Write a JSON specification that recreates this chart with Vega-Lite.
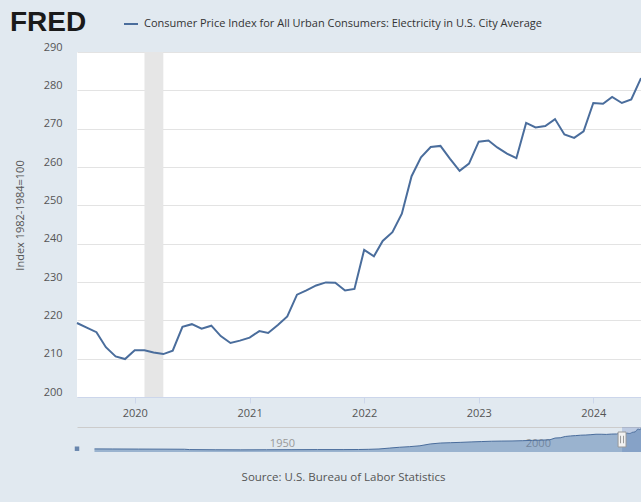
{
  "$schema": "https://vega.github.io/schema/vega-lite/v6.json",
  "background": "#e1e9f0",
  "padding": {"left": 10, "top": 16, "right": 0, "bottom": 19},
  "bounds": "flush",
  "spacing": 30,
  "config": {
    "font": "Open Sans",
    "view": {"stroke": null},
    "axis": {"labelFont": "Open Sans", "titleFont": "Open Sans", "labelFontSize": 11, "titleFontSize": 11, "titleFontWeight": "normal"}
  },
  "title": {"text": "Source: U.S. Bureau of Labor Statistics", "orient": "bottom", "anchor": "middle", "font": "Open Sans", "fontSize": 11.5, "fontWeight": "normal", "color": "#555555", "offset": 20, "dx": 16},
  "datasets": {
    "cpi": [
      {"date": "2019-07-01", "value": 219.3}, {"date": "2019-08-01", "value": 218.1}, {"date": "2019-09-01", "value": 216.9},
      {"date": "2019-10-01", "value": 213.0}, {"date": "2019-11-01", "value": 210.6}, {"date": "2019-12-01", "value": 209.9},
      {"date": "2020-01-01", "value": 212.2}, {"date": "2020-02-01", "value": 212.2}, {"date": "2020-03-01", "value": 211.6},
      {"date": "2020-04-01", "value": 211.2}, {"date": "2020-05-01", "value": 212.1}, {"date": "2020-06-01", "value": 218.3},
      {"date": "2020-07-01", "value": 219.0}, {"date": "2020-08-01", "value": 217.8}, {"date": "2020-09-01", "value": 218.6},
      {"date": "2020-10-01", "value": 215.9}, {"date": "2020-11-01", "value": 214.1}, {"date": "2020-12-01", "value": 214.7},
      {"date": "2021-01-01", "value": 215.5}, {"date": "2021-02-01", "value": 217.2}, {"date": "2021-03-01", "value": 216.7},
      {"date": "2021-04-01", "value": 218.8}, {"date": "2021-05-01", "value": 221.0}, {"date": "2021-06-01", "value": 226.7},
      {"date": "2021-07-01", "value": 227.8}, {"date": "2021-08-01", "value": 229.1}, {"date": "2021-09-01", "value": 229.9},
      {"date": "2021-10-01", "value": 229.8}, {"date": "2021-11-01", "value": 227.8}, {"date": "2021-12-01", "value": 228.2},
      {"date": "2022-01-01", "value": 238.4}, {"date": "2022-02-01", "value": 236.7}, {"date": "2022-03-01", "value": 240.7},
      {"date": "2022-04-01", "value": 243.0}, {"date": "2022-05-01", "value": 247.8}, {"date": "2022-06-01", "value": 257.6},
      {"date": "2022-07-01", "value": 262.5}, {"date": "2022-08-01", "value": 265.2}, {"date": "2022-09-01", "value": 265.5},
      {"date": "2022-10-01", "value": 262.2}, {"date": "2022-11-01", "value": 259.0}, {"date": "2022-12-01", "value": 260.9},
      {"date": "2023-01-01", "value": 266.6}, {"date": "2023-02-01", "value": 266.9}, {"date": "2023-03-01", "value": 265.1},
      {"date": "2023-04-01", "value": 263.5}, {"date": "2023-05-01", "value": 262.3}, {"date": "2023-06-01", "value": 271.5},
      {"date": "2023-07-01", "value": 270.3}, {"date": "2023-08-01", "value": 270.7}, {"date": "2023-09-01", "value": 272.5},
      {"date": "2023-10-01", "value": 268.5}, {"date": "2023-11-01", "value": 267.6}, {"date": "2023-12-01", "value": 269.3},
      {"date": "2024-01-01", "value": 276.7}, {"date": "2024-02-01", "value": 276.5}, {"date": "2024-03-01", "value": 278.3},
      {"date": "2024-04-01", "value": 276.7}, {"date": "2024-05-01", "value": 277.6}, {"date": "2024-06-01", "value": 283.2}
    ],
    "recession": [{"start": "2020-02-01", "end": "2020-04-01"}],
    "range": [{"start": "2019-07-01", "end": "2024-06-01"}],
    "first": [{"date": "1913-01-01", "value": 38}],
    "history": [
      {"date": "1916-06-01", "value": 36}, {"date": "1920-01-01", "value": 35}, {"date": "1925-01-01", "value": 34},
      {"date": "1930-01-01", "value": 33}, {"date": "1934-01-01", "value": 32}, {"date": "1935-01-01", "value": 28},
      {"date": "1940-01-01", "value": 26}, {"date": "1945-01-01", "value": 25}, {"date": "1950-01-01", "value": 26},
      {"date": "1955-01-01", "value": 27}, {"date": "1960-01-01", "value": 28}, {"date": "1965-01-01", "value": 28},
      {"date": "1968-01-01", "value": 29}, {"date": "1970-01-01", "value": 31}, {"date": "1972-01-01", "value": 35},
      {"date": "1974-01-01", "value": 45}, {"date": "1976-01-01", "value": 55}, {"date": "1978-01-01", "value": 62},
      {"date": "1980-01-01", "value": 72}, {"date": "1982-01-01", "value": 93}, {"date": "1984-01-01", "value": 104},
      {"date": "1986-01-01", "value": 108}, {"date": "1988-01-01", "value": 112}, {"date": "1990-01-01", "value": 117},
      {"date": "1992-01-01", "value": 121}, {"date": "1994-01-01", "value": 125}, {"date": "1996-01-01", "value": 127},
      {"date": "1998-01-01", "value": 128}, {"date": "2000-01-01", "value": 131}, {"date": "2002-01-01", "value": 135},
      {"date": "2004-01-01", "value": 138}, {"date": "2005-06-01", "value": 142}, {"date": "2006-06-01", "value": 162},
      {"date": "2007-06-01", "value": 165}, {"date": "2008-06-01", "value": 180}, {"date": "2009-06-01", "value": 186},
      {"date": "2010-06-01", "value": 190}, {"date": "2011-06-01", "value": 195}, {"date": "2012-06-01", "value": 197},
      {"date": "2013-06-01", "value": 201}, {"date": "2014-06-01", "value": 206}, {"date": "2015-06-01", "value": 206},
      {"date": "2016-06-01", "value": 204}, {"date": "2017-06-01", "value": 208}, {"date": "2018-06-01", "value": 209},
      {"date": "2019-07-01", "value": 219.3}
    ]
  },
  "vconcat": [
    {
      "width": 564,
      "height": 345,
      "view": {"fill": "#ffffff", "stroke": null},
      "layer": [
        {
          "data": {"name": "recession"},
          "mark": {"type": "rect", "color": "#e6e6e6"},
          "encoding": {
            "x": {
              "field": "start", "type": "temporal",
              "scale": {"type": "utc", "domain": [{"year": 2019, "month": 7, "date": 1, "utc": true}, {"year": 2024, "month": 6, "date": 1, "utc": true}]},
              "axis": {"format": "%Y", "tickCount": {"interval": "year", "step": 1}, "grid": false, "title": null, "domainColor": "#ccd6eb", "tickColor": "#ccd6eb", "tickSize": 6, "labelPadding": 4, "labelColor": "#555555", "labelFlush": false}
            },
            "x2": {"field": "end"}
          }
        },
        {
          "data": {"name": "cpi"},
          "mark": {"type": "line", "strokeWidth": 2},
          "encoding": {
            "x": {"field": "date", "type": "temporal"},
            "y": {
              "field": "value", "type": "quantitative",
              "scale": {"domain": [200, 290], "nice": false, "zero": false},
              "axis": {"values": [200, 210, 220, 230, 240, 250, 260, 270, 280, 290], "title": "Index 1982-1984=100", "titleX": -57, "titleY": 163, "titleAlign": "center", "titleBaseline": "middle", "titleColor": "#555555", "labelColor": "#555555", "domain": false, "ticks": false, "tickSize": 0, "labelPadding": 15, "grid": true, "gridColor": "#e3e3e3", "labelBaseline": "alphabetic", "labelOffset": -2}
            },
            "color": {
              "datum": "Consumer Price Index for All Urban Consumers: Electricity in U.S. City Average",
              "scale": {"range": ["#4a6d9c"]},
              "legend": {"orient": "none", "legendX": -67, "legendY": -36, "title": "FRED", "titleOrient": "left", "titleFont": "Liberation Sans", "titleFontSize": 28, "titleFontWeight": "bold", "titleColor": "#1a1a1a", "titlePadding": 36, "titleBaseline": "middle", "titleAnchor": "middle", "symbolType": "stroke", "symbolSize": 196, "symbolStrokeWidth": 2, "labelFont": "Open Sans", "labelFontSize": 11, "labelColor": "#333333", "labelLimit": 600, "labelOffset": 5, "padding": 0}
            }
          }
        }
      ]
    },
    {
      "width": 564,
      "height": 25,
      "layer": [
        {
          "data": {"name": "range"},
          "mark": {"type": "rect", "color": "#6685c2", "opacity": 0.3, "clip": true},
          "encoding": {
            "x": {
              "field": "start", "type": "temporal",
              "scale": {"type": "utc", "domain": [{"year": 1913, "month": 1, "date": 1, "utc": true}, {"year": 2023, "month": 3, "date": 15, "utc": true}]},
              "axis": {"orient": "top", "domain": true, "domainColor": "#cccccc", "ticks": false, "tickSize": 0, "grid": false, "title": null, "values": [{"year": 1950, "month": 1, "date": 1, "utc": true}, {"year": 2000, "month": 1, "date": 1, "utc": true}], "format": "%Y", "labelColor": "#999999", "labelAlign": "left", "labelBaseline": "bottom", "labelPadding": -21, "labelOffset": 3, "labelFlush": false}
            },
            "x2": {"field": "end"}
          }
        },
        {
          "data": {"name": "history"},
          "mark": {"type": "area", "color": "#4572a7", "fillOpacity": 0.45, "clip": true, "line": {"color": "#4a6d9c", "strokeWidth": 1}},
          "encoding": {
            "x": {"field": "date", "type": "temporal"},
            "y": {"field": "value", "type": "quantitative", "scale": {"domain": [0, 290], "nice": false}, "axis": null}
          }
        },
        {
          "data": {"name": "cpi"},
          "mark": {"type": "area", "color": "#4572a7", "fillOpacity": 0.45, "clip": true, "line": {"color": "#4a6d9c", "strokeWidth": 1}},
          "encoding": {
            "x": {"field": "date", "type": "temporal"},
            "y": {"field": "value", "type": "quantitative"}
          }
        },
        {
          "data": {"name": "first"},
          "mark": {"type": "point", "shape": "square", "filled": true, "size": 20, "color": "#4a6d9c", "opacity": 0.8},
          "encoding": {
            "x": {"field": "date", "type": "temporal"},
            "y": {"field": "value", "type": "quantitative"}
          }
        },
        {
          "data": {"name": "range"},
          "mark": {"type": "point", "shape": "M-0.53,-1H0.53V1H-0.53Z M-0.2,-0.5V0.5 M0.2,-0.5V0.5", "size": 225, "filled": true, "fill": "#f2f2f2", "stroke": "#999999", "strokeWidth": 1, "opacity": 1},
          "encoding": {
            "x": {"field": "start", "type": "temporal"},
            "y": {"datum": 145}
          }
        }
      ]
    }
  ]
}
